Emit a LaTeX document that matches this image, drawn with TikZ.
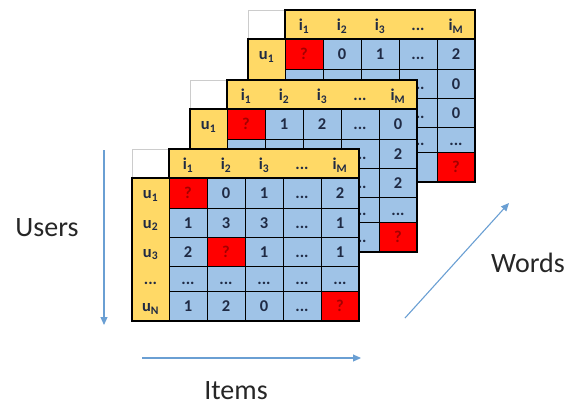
\documentclass[tikz,border=0pt]{standalone}
\usepackage{fontspec}
\setmainfont{Carlito}
\usetikzlibrary{arrows.meta}

\definecolor{hdryellow}{HTML}{FFD966}
\definecolor{cellb}{HTML}{9FC3E7}
\definecolor{cellr}{HTML}{FF0000}
\definecolor{celltxtb}{HTML}{1F2A44}
\definecolor{celltxtr}{HTML}{A30000}
\definecolor{axisblue}{HTML}{6A9FD3}

\newcommand{\dotsym}{...}

\tikzset{
  ncell/.style={draw=black, line width=1pt, minimum width=38pt, inner sep=0pt,
    text height=11pt, text depth=0pt, font=\fontsize{16.5}{16.5}\selectfont\bfseries},
  lbl/.style={inner sep=0pt, text height=11pt, text depth=0pt,
    font=\fontsize{16.5}{16.5}\selectfont\bfseries, text=celltxtb},
  corner/.style={draw=gray!40, fill=white, line width=0.6pt, minimum width=37pt,
    minimum height=29pt, inner sep=0pt},
  hdrbar/.style={draw=black, fill=hdryellow, line width=0.8pt, minimum width=190pt,
    minimum height=29pt, inner sep=0pt},
  usercol/.style={draw=black, fill=hdryellow, line width=0.8pt, minimum width=37pt,
    minimum height=143pt, inner sep=0pt},
  axislbl/.style={font=\fontsize{28}{28}\selectfont, text=black!85},
  axisarrow/.style={draw=axisblue, line width=1.1pt, -{Triangle[length=8pt,width=7pt]}},
}

% one rating matrix: #1 name, #2 left, #3 top, #4 user labels, #5 rows
\newcommand{\matlayer}[5]{%
  \node[corner] (#1-corner) at ({#2+18.5},{#3+14.5}) {};
  \node[hdrbar] (#1-hdr) at ({#2+132},{#3+14.5}) {};
  \node[usercol] (#1-ucol) at ({#2+18.5},{#3+100.5}) {};
  \foreach \lab [count=\c] in {i\textsubscript{1},i\textsubscript{2},i\textsubscript{3},\dotsym,i\textsubscript{M}}
    \node[lbl] (#1-i\c) at ({#2+18+38*\c},{#3+15}) {\lab};
  \foreach \r/\yc/\h/\cells in {#5} {
    \foreach \s/\v [count=\c] in \cells
      \node[ncell, fill=cell\s, text=celltxt\s, minimum height=\h pt] (#1-\r-\c)
        at ({#2+18+38*\c},{#3+\yc}) {\v};
  }
  \foreach \lab/\r/\yc in {#4}
    \node[lbl] (#1-u\r) at ({#2+18.5},{#3+\yc}) {\lab};
  \draw[line width=1.5pt] ({#2},{#3+29}) -- ({#2},{#3+172}) -- ({#2+227},{#3+172})
    -- ({#2+227},{#3}) -- ({#2+37},{#3}) -- ({#2+37},{#3+29}) -- cycle;
  \draw[line width=1.5pt] ({#2+37},{#3+29}) -- ({#2+227},{#3+29});
}

\begin{document}
\begin{tikzpicture}[x=1pt,y=-1pt]
\useasboundingbox (0,0) rectangle (575,408);

% back layer
\matlayer{back}{248}{10}{u\textsubscript{1}/1/44}{%
  1/44/30/{r/?,b/0,b/1,b/\dotsym,b/2},
  2/73.5/29/{b/{},b/{},b/{},b/\dotsym,b/0},
  3/102.5/29/{b/{},b/{},b/{},b/\dotsym,b/0},
  4/129.5/25/{b/{},b/{},b/{},b/\dotsym,b/\dotsym},
  5/157/30/{b/{},b/{},b/{},b/{},r/?}}

% middle layer
\matlayer{mid}{190}{80}{u\textsubscript{1}/1/44}{%
  1/44/30/{r/?,b/1,b/2,b/\dotsym,b/0},
  2/73.5/29/{b/{},b/{},b/{},b/\dotsym,b/2},
  3/102.5/29/{b/{},b/{},b/{},b/\dotsym,b/2},
  4/129.5/25/{b/{},b/{},b/{},b/\dotsym,b/\dotsym},
  5/157/30/{b/{},b/{},b/{},b/\dotsym,r/?}}

% front layer
\matlayer{front}{132}{149}{u\textsubscript{1}/1/44,u\textsubscript{2}/2/73.5,u\textsubscript{3}/3/102.5,\dotsym/4/129.5,u\textsubscript{N}/5/157}{%
  1/44/30/{r/?,b/0,b/1,b/\dotsym,b/2},
  2/73.5/29/{b/1,b/3,b/3,b/\dotsym,b/1},
  3/102.5/29/{b/2,r/?,b/1,b/\dotsym,b/1},
  4/129.5/25/{b/\dotsym,b/\dotsym,b/\dotsym,b/\dotsym,b/\dotsym},
  5/157/30/{b/1,b/2,b/0,b/\dotsym,r/?}}

% axes
\coordinate (usersTop) at (104,150);
\coordinate (usersBot) at (104,325);
\coordinate (itemsL) at (142,358);
\coordinate (itemsR) at (361,358);
\coordinate (wordsLo) at (405,318);
\coordinate (wordsHi) at (509,203);
\draw[axisarrow] (usersTop) -- (usersBot);
\draw[axisarrow] (itemsL) -- (itemsR);
\draw[axisarrow] (wordsLo) -- (wordsHi);
\node[axislbl] (users) at (47,228) {Users};
\node[axislbl] (items) at (236,391) {Items};
\node[axislbl] (words) at (528,263) {Words};
\end{tikzpicture}
\end{document}
